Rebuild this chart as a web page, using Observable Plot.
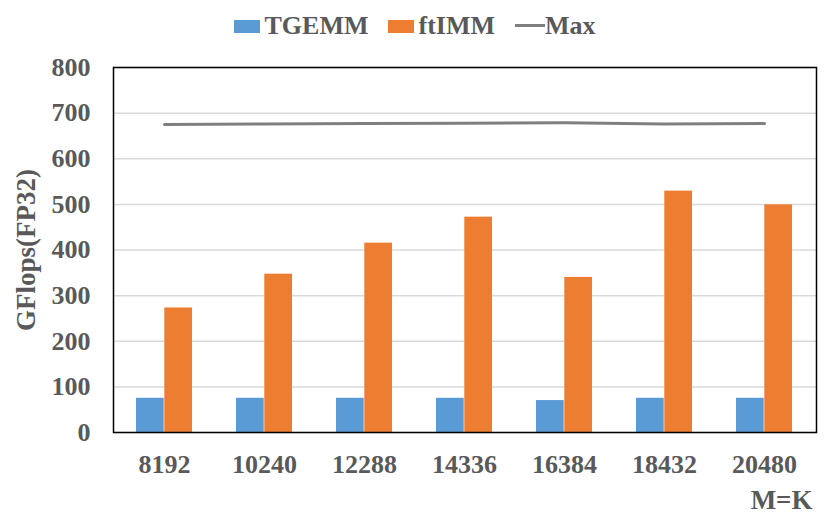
<!DOCTYPE html>
<html>
<head>
<meta charset="utf-8">
<script src="https://cdn.jsdelivr.net/npm/d3@7"></script>
<script src="https://cdn.jsdelivr.net/npm/@observablehq/plot@0.6"></script>
<style>
  body { margin: 0; background: #fff; }
  #legend {
    width: 830px; height: 45px; box-sizing: border-box; padding-top: 10px;
    display: flex; justify-content: center; align-items: flex-start;
    font-family: "Liberation Serif", "Times New Roman", serif; font-weight: bold;
    font-size: 26px; line-height: 31px; color: #595959;
  }
  .item { display: flex; align-items: flex-start; margin: 0 10px; }
  .sw { width: 26px; height: 13px; margin-top: 10px; margin-right: 4px; }
  .ln { width: 30px; height: 3px; margin-top: 14px; }
</style>
</head>
<body>
<div id="legend"></div>
<div id="chart"></div>
<script>
const categories = ["8192", "10240", "12288", "14336", "16384", "18432", "20480"];
const tgemm = [75, 75, 75, 75, 70, 75, 75];
const ftimm = [273, 347, 415, 472, 340, 529, 499];
const maxv = [675, 676, 677, 678, 679, 676, 677];
const yTicks = [0, 100, 200, 300, 400, 500, 600, 700, 800];
const seriesNames = ["TGEMM", "ftIMM", "Max"];
const colors = ["#5b9bd5", "#ed7d31", "#7f7f7f"];

const rows = categories.map((c, i) => ({cat: c, tgemm: tgemm[i], ftimm: ftimm[i], max: maxv[i]}));

// legend
const legend = document.getElementById("legend");
seriesNames.forEach((name, i) => {
  const item = document.createElement("div");
  item.className = "item";
  const sw = document.createElement("div");
  sw.className = i === 2 ? "ln" : "sw";
  sw.style.background = colors[i];
  const t = document.createElement("span");
  t.textContent = name;
  item.appendChild(sw);
  item.appendChild(t);
  legend.appendChild(item);
});

const half = 28.3;
const chart = Plot.plot({
  width: 830,
  height: 484,
  marginTop: 22,
  marginRight: 14,
  marginBottom: 97,
  marginLeft: 113,
  style: "font-family: 'Liberation Serif', 'Times New Roman', serif; font-weight: bold; font-size: 26px; color: #595959; background: white;",
  x: {domain: categories, paddingInner: 0.436, paddingOuter: 0.218, tickSize: 0, tickPadding: 22, label: null},
  y: {domain: [0, 800], ticks: yTicks, tickSize: 0, tickPadding: 23, label: null},
  marks: [
    Plot.ruleY(yTicks, {stroke: "#d9d9d9", strokeWidth: 1.5}),
    Plot.barY(rows, {x: "cat", y: "tgemm", fill: colors[0], insetRight: half}),
    Plot.barY(rows, {x: "cat", y: "ftimm", fill: colors[1], insetLeft: half}),
    Plot.line(rows, {x: "cat", y: "max", stroke: colors[2], strokeWidth: 3}),
    Plot.frame({stroke: "#000", strokeWidth: 1.5}),
    Plot.text(["GFlops(FP32)"], {text: d => d, frameAnchor: "left", textAnchor: "middle", dx: -87, rotate: -90, fontSize: 27, fill: "#595959"}),
    Plot.text(["M=K"], {text: d => d, frameAnchor: "bottom-right", textAnchor: "end", dx: -4, dy: 76, fontSize: 27, fill: "#595959"})
  ]
});
document.getElementById("chart").appendChild(chart);
</script>
</body>
</html>
